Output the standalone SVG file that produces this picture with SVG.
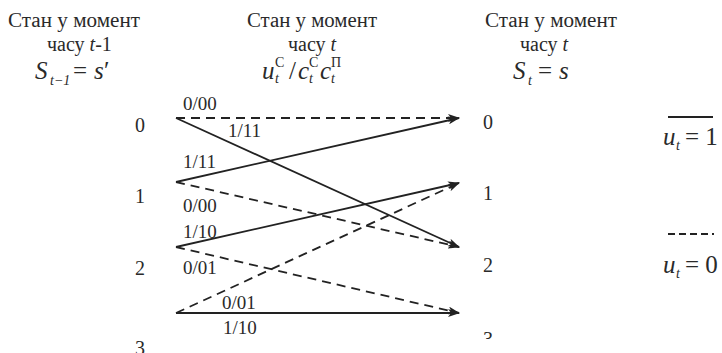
<svg xmlns="http://www.w3.org/2000/svg" width="722" height="353" viewBox="0 0 722 353">
<defs>
<style>
text{font-family:"Liberation Serif","Times New Roman",serif;fill:#2a2a2a}
.h{font-size:20px}
.m{font-size:25px}
.i{font-style:italic}
.sub{font-size:14px;font-style:italic}
.sup{font-size:14px}
.lab{font-size:19px}
.n{font-size:20px}
.e{stroke:#222;stroke-width:1.8;fill:none}
.d{stroke-dasharray:9 6}
</style>
<marker id="ah" markerWidth="12" markerHeight="8" refX="11" refY="4" orient="auto" markerUnits="userSpaceOnUse">
<path d="M0,0 L12,4 L0,8 L3,4 Z" fill="#222"/>
</marker>
<clipPath id="cb"><rect x="0" y="0" width="722" height="339"/></clipPath>
</defs>
<rect width="722" height="353" fill="#fff"/>

<g id="header-left">
<text class="h" x="8" y="27" textLength="132" lengthAdjust="spacingAndGlyphs">Стан у момент</text>
<text class="h" x="47" y="51">часу <tspan class="i">t</tspan>-1</text>
<text class="m i" x="35" y="79">S</text>
<text class="sub" x="50" y="85">t−1</text>
<text class="m" x="73" y="79">=</text>
<text class="m i" x="94" y="79">s</text>
<text class="m" x="104" y="79">′</text>
</g>
<g id="header-mid">
<text class="h" x="247" y="27" textLength="130" lengthAdjust="spacingAndGlyphs">Стан у момент</text>
<text class="h" x="288" y="51">часу <tspan class="i">t</tspan></text>
<text class="m i" x="262" y="79">u</text>
<text class="sup" x="275" y="67">С</text>
<text class="sub" x="275" y="83" font-size="11">t</text>
<text class="m" x="289" y="79">/</text>
<text class="m i" x="298" y="79">c</text>
<text class="sup" x="309" y="67">С</text>
<text class="sub" x="309" y="83" font-size="11">t</text>
<text class="m i" x="320" y="79">c</text>
<text class="sup" x="331" y="67">П</text>
<text class="sub" x="331" y="83" font-size="11">t</text>
</g>
<g id="header-right">
<text class="h" x="485" y="27" textLength="132" lengthAdjust="spacingAndGlyphs">Стан у момент</text>
<text class="h" x="520" y="51">часу <tspan class="i">t</tspan></text>
<text class="m i" x="513" y="79">S</text>
<text class="sub" x="528" y="85">t</text>
<text class="m" x="538" y="79">=</text>
<text class="m i" x="559" y="79">s</text>
</g>

<g id="node-l0"><text class="n" x="135" y="132">0</text></g>
<g id="node-l1"><text class="n" x="135" y="203">1</text></g>
<g id="node-l2"><text class="n" x="135" y="275">2</text></g>
<g id="node-l3"><text class="n" x="135" y="355">3</text></g>
<g id="node-r0"><text class="n" x="483" y="129">0</text></g>
<g id="node-r1"><text class="n" x="483" y="200">1</text></g>
<g id="node-r2"><text class="n" x="483" y="272">2</text></g>
<g id="node-r3" clip-path="url(#cb)"><text class="n" x="483" y="346">3</text></g>

<g id="connectors">
<line class="e d" x1="176" y1="118" x2="459" y2="118" marker-end="url(#ah)"/>
<line class="e" x1="176" y1="118" x2="459" y2="247" marker-end="url(#ah)"/>
<line class="e" x1="176" y1="182" x2="459" y2="118" marker-end="url(#ah)"/>
<line class="e d" x1="176" y1="182" x2="459" y2="247" marker-end="url(#ah)"/>
<line class="e" x1="176" y1="247" x2="459" y2="183" marker-end="url(#ah)"/>
<line class="e d" x1="176" y1="247" x2="459" y2="313" marker-end="url(#ah)"/>
<line class="e d" x1="176" y1="313" x2="459" y2="183" marker-end="url(#ah)"/>
<line class="e" x1="176" y1="313" x2="459" y2="313" marker-end="url(#ah)"/>
</g>

<g id="edge-labels">
<text class="lab" x="183" y="110">0/00</text>
<text class="lab" x="228" y="137">1/11</text>
<text class="lab" x="183" y="168">1/11</text>
<text class="lab" x="183" y="212">0/00</text>
<text class="lab" x="183" y="238">1/10</text>
<text class="lab" x="183" y="274">0/01</text>
<text class="lab" x="222" y="309">0/01</text>
<text class="lab" x="223" y="334">1/10</text>
</g>

<g id="legend">
<line class="e" x1="668" y1="117" x2="713" y2="117"/>
<text class="m i" x="663" y="145">u</text>
<text class="sub" x="676" y="150">t</text>
<text class="m" x="685" y="145">= 1</text>
<line class="e" x1="668" y1="234" x2="714" y2="234" stroke-dasharray="7 4"/>
<text class="m i" x="663" y="273">u</text>
<text class="sub" x="676" y="278">t</text>
<text class="m" x="685" y="273">= 0</text>
</g>
</svg>
